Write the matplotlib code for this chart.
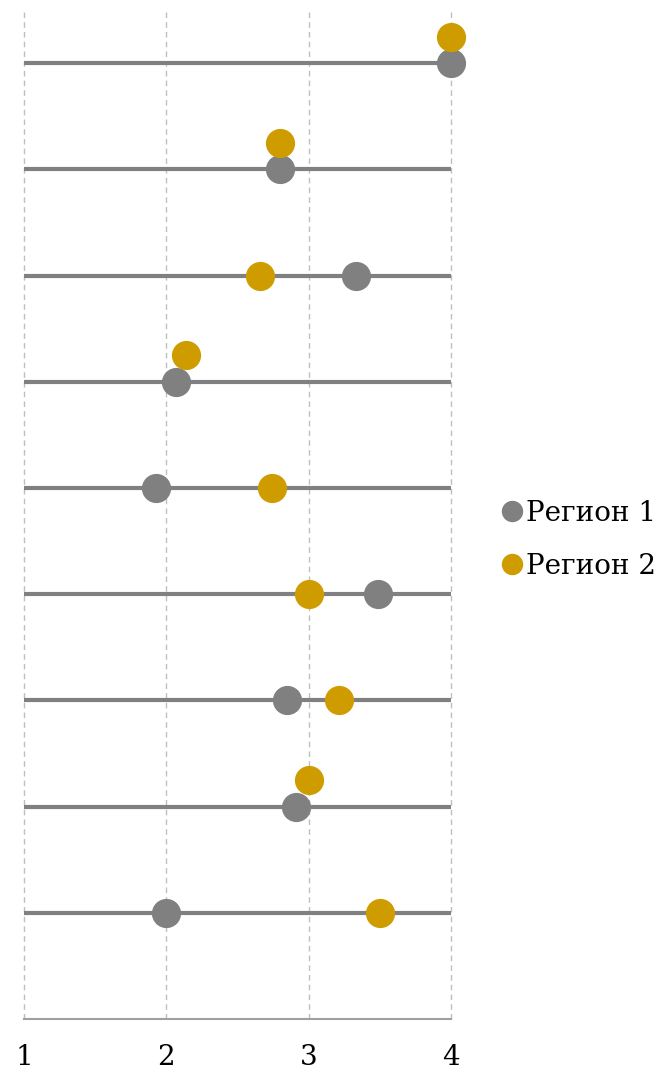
import matplotlib.pyplot as plt
import numpy as np

# Data (rows listed top to bottom)
region_1 = [4.0, 2.8, 3.33, 2.07, 1.93, 3.49, 2.85, 2.91, 2.0]
region_2 = [4.0, 2.8, 2.66, 2.14, 2.74, 3.0, 3.21, 3.0, 3.5]
series_labels = ["Регион 1", "Регион 2"]
x_ticks = [1, 2, 3, 4]

GREY = "#808080"
GOLD = "#CF9C00"

plt.rcParams["font.family"] = ["DejaVu Serif"]

fig = plt.figure(figsize=(6.71, 10.78), dpi=100)
ax = fig.add_axes([24 / 671, 59 / 1078, 427 / 671, 1009 / 1078])

n = len(region_1)
y = np.arange(n, 0, -1)
r1 = np.array(region_1)
r2 = np.array(region_2)

# vertical dashed grid, drawn unclipped so the x=4 line shows too
for xv in x_ticks:
    ax.axvline(xv, linestyle=(0, (4, 3)), color="#BFBFBF", linewidth=1,
               zorder=1, clip_on=False)

# range lines from 1 to 4
ax.hlines(y, x_ticks[0], x_ticks[-1], color=GREY, linewidth=3, zorder=2)

# nudge region 2 upward when both points would overlap
offset = np.where(np.abs(r2 - r1) < 0.3, 0.25, 0.0)

ax.plot(r1, y, "o", color=GREY, markersize=20, zorder=3,
        label=series_labels[0], clip_on=False)
ax.plot(r2, y + offset, "o", color=GOLD, markersize=20, zorder=4,
        label=series_labels[1], clip_on=False)

ax.set_xlim(1, 4)
ax.set_ylim(0, 9.5)
ax.set_xticks(x_ticks)
ax.set_yticks([])
for side in ["top", "right", "left"]:
    ax.spines[side].set_visible(False)
ax.spines["bottom"].set_color("#A0A0A0")
ax.spines["bottom"].set_linewidth(1.5)
ax.tick_params(axis="x", length=0, pad=18, labelsize=20)

leg = ax.legend(loc="center left", bbox_to_anchor=(1.085, 0.475), frameon=False,
                fontsize=20, handletextpad=0.0, markerscale=0.72,
                labelspacing=0.93, handlelength=1.0, borderaxespad=0)

fig.savefig("out.png", dpi=100)
